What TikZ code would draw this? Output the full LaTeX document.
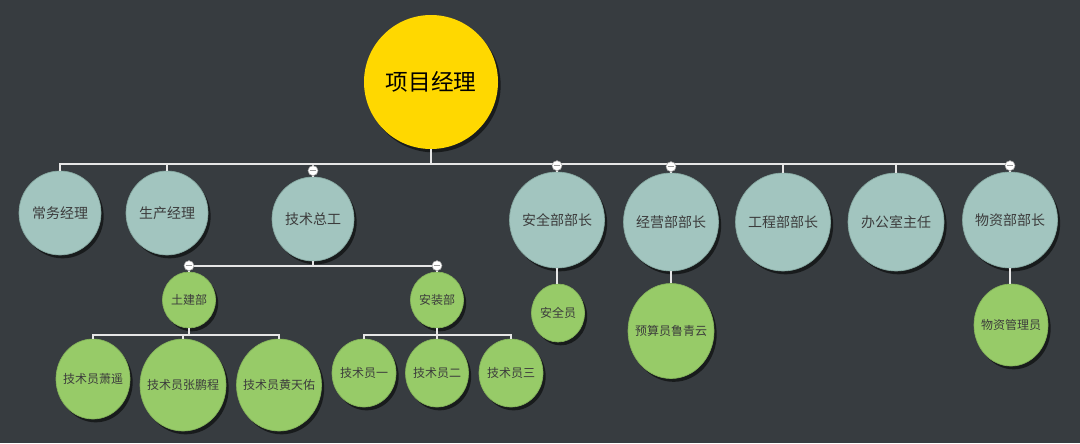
\documentclass[tikz,border=0pt]{standalone}
\usepackage{fontspec}
\setmainfont{Noto Sans CJK SC}
\usetikzlibrary{shapes.geometric,shadows}
\definecolor{bgc}{HTML}{373C40}
\definecolor{tealc}{HTML}{A2C5BF}
\definecolor{tealb}{HTML}{86A8A1}
\definecolor{greenc}{HTML}{97CB68}
\definecolor{greenb}{HTML}{84B35A}
\definecolor{yellowc}{HTML}{FFD800}
\definecolor{txtc}{HTML}{3C3C3C}
\definecolor{linec}{HTML}{E6E6E6}
\tikzset{
  bub/.style n args={2}{ellipse, minimum width=#1*0.75pt, minimum height=#2*0.75pt, inner sep=0pt,
     drop shadow={shadow xshift=2pt, shadow yshift=-2.5pt, opacity=0.55, fill=black}},
  toptext/.style={text=black, font=\fontsize{17pt}{20pt}\selectfont},
  mgrtext/.style={text=txtc, font=\fontsize{10.5pt}{12pt}\selectfont},
  stafftext/.style={text=txtc, font=\fontsize{9pt}{11pt}\selectfont},
  topbub/.style={bub={134}{134}, fill=yellowc},
  mgr/.style n args={2}{bub={#1}{#2}, fill=tealc, draw=tealb, line width=0.5pt},
  staff/.style n args={2}{bub={#1}{#2}, fill=greenc, draw=greenb, line width=0.5pt},
  conn/.style={draw=linec, line width=1.5pt},
  fold/.style={circle, fill=white, draw=gray!70, line width=0.4pt, minimum size=7.5pt, inner sep=0pt,
     path picture={\draw[gray!80, line width=0.6pt] ([xshift=-2.6pt]path picture bounding box.center) -- ([xshift=2.6pt]path picture bounding box.center);}}
}
\begin{document}
\begin{tikzpicture}[x=0.75pt,y=-0.75pt]
\fill[bgc] (0,0) rectangle (1080,443);
\useasboundingbox (0,0) rectangle (1080,443);

% nodes
\node[topbub, label={[toptext]center:项目经理}] (pm) at (431,82) {};
\node[mgr={82}{84}, label={[mgrtext]center:常务经理}] (c1) at (60,213) {};
\node[mgr={82}{84}, label={[mgrtext]center:生产经理}] (c2) at (167,213) {};
\node[mgr={82}{84}, label={[mgrtext]center:技术总工}] (c3) at (313,219) {};
\node[mgr={95}{96}, label={[mgrtext]center:安全部部长}] (c4) at (557,220) {};
\node[mgr={95}{98}, label={[mgrtext]center:经营部部长}] (c5) at (671,222) {};
\node[mgr={95}{98}, label={[mgrtext]center:工程部部长}] (c6) at (783,222) {};
\node[mgr={96}{98}, label={[mgrtext]center:办公室主任}] (c7) at (896,222) {};
\node[mgr={95}{96}, label={[mgrtext]center:物资部部长}] (c8) at (1010,220) {};

\node[staff={53}{56}, label={[stafftext]center:土建部}] (d1) at (189,300) {};
\node[staff={53}{56}, label={[stafftext]center:安装部}] (d2) at (437,300) {};
\node[staff={74}{80}, label={[stafftext]center:技术员萧遥}] (e1) at (93,379) {};
\node[staff={86}{92}, label={[stafftext]center:技术员张鹏程}] (e2) at (183,385) {};
\node[staff={85}{92}, label={[stafftext]center:技术员黄天佑}] (e3) at (279,385) {};
\node[staff={64}{68}, label={[stafftext]center:技术员一}] (e4) at (364,373) {};
\node[staff={63}{68}, label={[stafftext]center:技术员二}] (e5) at (437,373) {};
\node[staff={64}{68}, label={[stafftext]center:技术员三}] (e6) at (511,373) {};
\node[staff={53}{58}, label={[stafftext]center:安全员}] (f1) at (558,313) {};
\node[staff={86}{95}, label={[stafftext]center:预算员鲁青云}] (f2) at (671,331) {};
\node[staff={74}{82}, label={[stafftext]center:物资管理员}] (f3) at (1011,325) {};

% bus coordinates
\coordinate (bus1) at (0,164);
\coordinate (bus2) at (0,266);
\coordinate (bus3) at (0,335);

% connectors
\foreach \c in {c1,c2,c3,c4,c5,c6,c7,c8}
  \draw[conn] (pm.south) -- (pm.south |- bus1) -| (\c.north);
\foreach \c in {d1,d2}
  \draw[conn] (c3.south) -- (c3.south |- bus2) -| (\c.north);
\foreach \c in {e1,e2,e3}
  \draw[conn] (d1.south) -- (d1.south |- bus3) -| (\c.north);
\foreach \c in {e4,e5,e6}
  \draw[conn] (d2.south) -- (d2.south |- bus3) -| (\c.north);
\draw[conn] (c4.south) -- (c4.south |- f1.north);
\draw[conn] (c5.south) -- (c5.south |- f2.north);
\draw[conn] (c8.south) -- (c8.south |- f3.north);

% fold markers
\foreach \c in {c3,c4,c5,c8,d1,d2}
  \node[fold] (m\c) at ([yshift=4.5pt]\c.north) {};
\end{tikzpicture}
\end{document}
